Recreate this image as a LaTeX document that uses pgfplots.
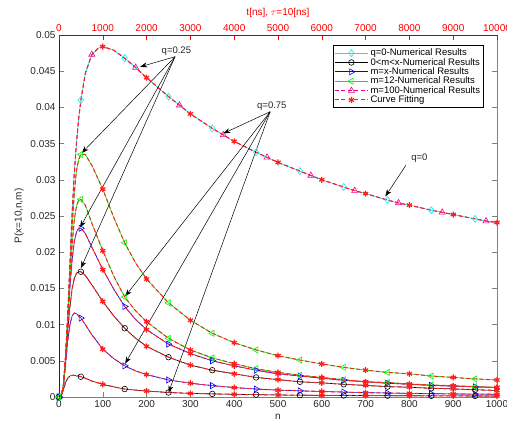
\documentclass[border=0pt]{standalone}
\usepackage{fontspec}
\setmainfont{Liberation Sans}
\usepackage{pgfplots}
\pgfplotsset{compat=1.18}
\usepackage{pgfplotstable}
\usetikzlibrary{arrows.meta}
\definecolor{axgray}{RGB}{38,38,38}
\definecolor{lgray}{RGB}{128,128,128}
\definecolor{mcyan}{RGB}{0,240,240}
\definecolor{mgreen}{RGB}{0,245,0}
\definecolor{mred}{RGB}{255,30,30}

\pgfplotstableread{
n y
0 0
5 0.0001
10 0.0015
15 0.0055
20 0.0115
25 0.0185
30 0.0255
35 0.0310
40 0.0352
45 0.0385
50 0.0410
60 0.0447
75 0.0473
90 0.0482
100 0.0484
125 0.0479
150 0.0468
175 0.0455
200 0.0441
250 0.0415
275 0.0403
300 0.0391
350 0.0371
375 0.0362
400 0.0353
450 0.0338
475 0.0331
500 0.0324
550 0.0312
575 0.0306
600 0.0300
650 0.0290
675 0.0285
700 0.0281
750 0.0272
775 0.0268
800 0.0265
850 0.0258
875 0.0255
900 0.0252
950 0.0246
975 0.0243
1000 0.0241
}\tabT

\pgfplotstableread{
n y
0 0
5 0.0001
10 0.0015
15 0.0055
20 0.0112
25 0.0175
30 0.0235
35 0.0282
40 0.0313
45 0.0328
50 0.0335
60 0.0335
75 0.0320
100 0.0287
125 0.0248
150 0.0213
175 0.0185
200 0.0163
250 0.0130
300 0.0106
350 0.0088
400 0.0075
450 0.0065
500 0.0057
550 0.0051
600 0.00456
650 0.0041
700 0.0037
750 0.0034
800 0.0032
850 0.0029
900 0.0027
950 0.0025
1000 0.00235
}\tabGa

\pgfplotstableread{
n y
0 0
5 0.0001
10 0.0015
15 0.0055
20 0.0110
25 0.0165
30 0.0210
35 0.0245
40 0.0264
45 0.0272
50 0.0273
60 0.0265
75 0.0240
100 0.0202
125 0.0167
150 0.0138
175 0.0119
200 0.0104
250 0.0081
300 0.0065
350 0.0054
400 0.0046
450 0.0039
500 0.0034
550 0.0030
600 0.0027
650 0.0024
700 0.0021
750 0.0020
800 0.0018
850 0.00165
900 0.00155
950 0.00143
1000 0.00132
}\tabGb

\pgfplotstableread{
n y
0 0
5 0.0001
10 0.0015
15 0.0055
20 0.0105
25 0.0152
30 0.0190
35 0.0215
40 0.0228
45 0.0233
50 0.0233
60 0.0226
75 0.0207
100 0.0176
125 0.0149
150 0.0125
175 0.0107
200 0.0093
250 0.0073
300 0.0060
350 0.0050
400 0.0043
450 0.0037
500 0.0032
550 0.0029
600 0.0026
650 0.0023
700 0.0021
750 0.0019
800 0.00175
850 0.0016
900 0.0015
950 0.0014
1000 0.0013
}\tabBa

\pgfplotstableread{
n y
0 0
5 0.0001
10 0.0015
15 0.0052
20 0.0092
25 0.0125
30 0.0150
35 0.0164
40 0.0171
45 0.0173
50 0.0173
60 0.0168
75 0.0155
100 0.0132
125 0.0112
150 0.0095
175 0.0081
200 0.0070
250 0.0055
300 0.0044
350 0.0037
400 0.0032
450 0.0027
500 0.0024
550 0.0021
600 0.00195
650 0.00175
700 0.0016
750 0.00143
800 0.00135
850 0.0012
900 0.00112
950 0.0010
1000 0.0009
}\tabKa

\pgfplotstableread{
n y
0 0
5 0.0001
10 0.0014
15 0.0045
20 0.0078
25 0.0100
30 0.0112
35 0.0116
40 0.0115
45 0.0112
50 0.0109
60 0.0100
75 0.0086
100 0.0066
125 0.0053
150 0.0043
175 0.0036
200 0.0031
250 0.00235
300 0.0019
350 0.00157
400 0.0013
450 0.0011
500 0.00095
550 0.00085
600 0.00076
650 0.00068
700 0.0006
750 0.00055
800 0.0005
850 0.00046
900 0.00042
950 0.0004
1000 0.00037
}\tabBb

\pgfplotstableread{
n y
0 0
5 0.0001
10 0.0010
15 0.0020
20 0.0026
25 0.0029
30 0.0030
35 0.0030
40 0.0029
45 0.0029
50 0.0028
60 0.0026
75 0.0022
100 0.00175
125 0.0014
150 0.0011
175 0.00095
200 0.00083
250 0.00062
300 0.0005
350 0.00043
400 0.00037
450 0.00032
500 0.00028
550 0.00025
600 0.00023
650 0.00021
700 0.0002
750 0.00018
800 0.00017
850 0.00016
900 0.00015
950 0.00014
1000 0.00013
}\tabKb

\pgfplotsset{
  /pgf/number format/1000 sep={},
  numL/.style={mark indices={1,11,16,19,21,23,25,27,29,31,33}},
  fitL/.style={mark indices={14,18,20,22,24,26,28,30,32,34}},
  fitstyle/.style={mred, line width=1pt, dash pattern=on 4pt off 2.5pt, mark=asterisk, mark size=3pt, mark options={solid, line width=1.2pt}},
}

\begin{document}
\begin{tikzpicture}
\begin{axis}[
  scale only axis, width=438pt, height=362pt,
  xmin=0, xmax=1000, ymin=0, ymax=0.05,
  xtick={0,100,200,300,400,500,600,700,800,900,1000},
  ytick={0,0.005,0.01,0.015,0.02,0.025,0.03,0.035,0.04,0.045,0.05},
  xtick pos=bottom, tick align=inside,
  scaled y ticks=false, scaled x ticks=false,
  /pgf/number format/assume math mode=true,
  yticklabel style={/pgf/number format/.cd, fixed, precision=3},
  tick label style={font=\fontsize{10}{12}\selectfont, text=axgray},
  major tick style={lgray, line width=0.5pt},
  major tick length=5pt,
  axis line style={lgray, line width=0.8pt},
  xlabel={n}, ylabel={P(x=10,n,m)},
  label style={font=\fontsize{10}{12}\selectfont, text=axgray},
  legend cell align=left,
  legend style={at={(0.970,0.972)}, anchor=north east, draw=black, line width=0.5pt,
    font=\fontsize{9.5}{10}\selectfont, inner sep=1.5pt, row sep=-3pt,
    nodes={inner ysep=2pt}},
  legend image code/.code={\draw[mark repeat=2,mark phase=2] plot coordinates {(0cm,0cm) (0.58cm,0cm) (1.16cm,0cm)};},
  every axis plot/.append style={line width=0.6pt},
]
\addlegendimage{mcyan, solid, mark=diamond, mark size=3.5pt}
\addlegendentry{q=0-Numerical Results}
\addlegendimage{black, solid, mark=o, mark size=2.8pt}
\addlegendentry{0<m<x-Numerical Results}
\addlegendimage{blue, solid, line width=1.3pt, mark=triangle, mark size=3.5pt, mark options={rotate=-90, line width=0.6pt}}
\addlegendentry{m=x-Numerical Results}
\addlegendimage{mgreen, solid, mark=triangle, mark size=3.5pt, mark options={rotate=90}}
\addlegendentry{m=12-Numerical Results}
\addlegendimage{magenta, dash pattern=on 4pt off 2.5pt, mark=triangle, mark size=3.5pt, mark options={solid}}
\addlegendentry{m=100-Numerical Results}
\addlegendimage{fitstyle}
\addlegendentry{Curve Fitting}

% numerical results
\addplot[mcyan, mark=diamond, mark size=3.5pt, mark indices={1,11,17,20,23,26,29,32,35,38,41}, forget plot] table[x=n,y=y]{\tabT};
\addplot[magenta, dash pattern=on 4pt off 2.5pt, line width=0.8pt, mark=triangle, mark size=3.5pt, mark options={solid, line width=0.6pt}, mark indices={1,13,18,21,24,27,30,33,36,39,42}, forget plot] table[x=n,y=y]{\tabT};
\addplot[black, mark=o, mark size=2.8pt, numL, forget plot] table[x=n,y=y]{\tabKa};
\addplot[black, mark=o, mark size=2.8pt, numL, forget plot] table[x=n,y=y]{\tabKb};
\addplot[blue, mark=triangle, mark size=3.5pt, mark options={rotate=-90}, numL, forget plot] table[x=n,y=y]{\tabBa};
\addplot[blue, mark=triangle, mark size=3.5pt, mark options={rotate=-90}, numL, forget plot] table[x=n,y=y]{\tabBb};
\addplot[mgreen, mark=triangle, mark size=3.5pt, mark options={rotate=90}, numL, forget plot] table[x=n,y=y]{\tabGa};
\addplot[mgreen, mark=triangle, mark size=3.5pt, mark options={rotate=90}, numL, forget plot] table[x=n,y=y]{\tabGb};
% curve fitting
\addplot[fitstyle, mark indices={15,19,22,25,28,31,34,37,40,43}, forget plot] table[x=n,y=y]{\tabT};
\addplot[fitstyle, fitL, forget plot] table[x=n,y=y]{\tabGa};
\addplot[fitstyle, fitL, forget plot] table[x=n,y=y]{\tabGb};
\addplot[fitstyle, fitL, forget plot] table[x=n,y=y]{\tabBa};
\addplot[fitstyle, fitL, forget plot] table[x=n,y=y]{\tabBb};
\addplot[fitstyle, fitL, forget plot] table[x=n,y=y]{\tabKa};
\addplot[fitstyle, fitL, forget plot] table[x=n,y=y]{\tabKb};

% annotations
\begin{scope}[every path/.style={black, line width=0.5pt, -{Stealth[length=7pt, width=5pt, inset=2pt]}}]
\draw (axis cs:265,0.0470) -- (axis cs:185,0.0456);
\draw (axis cs:265,0.0470) -- (axis cs:52,0.0337);
\draw (axis cs:265,0.0470) -- (axis cs:48,0.0234);
\draw (axis cs:265,0.0470) -- (axis cs:50,0.0178);
\draw (axis cs:482,0.0394) -- (axis cs:375,0.0364);
\draw (axis cs:482,0.0394) -- (axis cs:151,0.0139);
\draw (axis cs:482,0.0394) -- (axis cs:151,0.0046);
\draw (axis cs:482,0.0394) -- (axis cs:250,0.0006);
\draw (axis cs:792,0.0320) -- (axis cs:745,0.0277);
\end{scope}
\node[font=\fontsize{9.5}{11}\selectfont, text=axgray] at (axis cs:268,0.0477) {q=0.25};
\node[font=\fontsize{9.5}{11}\selectfont, text=axgray] at (axis cs:486,0.0402) {q=0.75};
\node[font=\fontsize{9.5}{11}\selectfont, text=axgray] at (axis cs:823,0.0330) {q=0};
\draw[axgray, line width=0.8pt] (rel axis cs:0,0) -- (rel axis cs:0,1);
\end{axis}
\begin{axis}[
  scale only axis, width=438pt, height=362pt,
  xmin=0, xmax=10000, ymin=0, ymax=1,
  axis x line*=top, axis y line=none,
  xtick={0,1000,2000,3000,4000,5000,6000,7000,8000,9000,10000},
  scaled x ticks=false, tick align=inside,
  major tick length=5pt,
  /pgf/number format/assume math mode=true,
  tick label style={font=\fontsize{10}{12}\selectfont, text=red},
  major tick style={red, line width=0.5pt},
  axis line style={red!75!black, line width=0.8pt},
  xlabel={t[ns], $\tau$=10[ns]},
  xlabel style={font=\fontsize{10}{12}\selectfont, text=red},
]
\end{axis}
\pgfresetboundingbox
\useasboundingbox (-59pt,-36pt) rectangle (448pt,397pt);
\end{tikzpicture}
\end{document}
